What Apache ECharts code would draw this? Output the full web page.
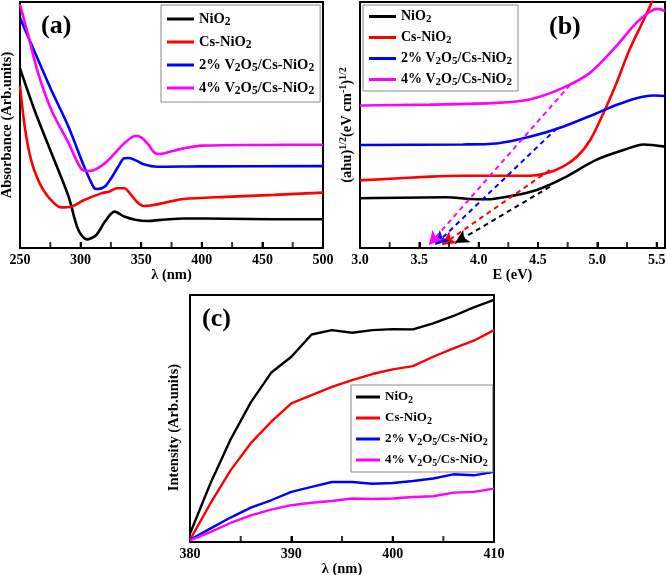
<!DOCTYPE html>
<html>
<head>
<meta charset="utf-8">
<script src="https://cdn.jsdelivr.net/npm/echarts/dist/echarts.min.js"></script>
<style>
html, body { margin: 0; padding: 0; background: #fff; }
#main { width: 666px; height: 575px; }
</style>
</head>
<body>
<div id="main"></div>
<script>
var FONT = '"Liberation Serif", "Times New Roman", serif';

var names = ['NiO2', 'Cs-NiO2', '2% V2O5/Cs-NiO2', '4% V2O5/Cs-NiO2'];
var richNames = {
	'NiO2': 'NiO{s|2}',
	'Cs-NiO2': 'Cs-NiO{s|2}',
	'2% V2O5/Cs-NiO2': '2% V{s|2}O{s|5}/Cs-NiO{s|2}',
	'4% V2O5/Cs-NiO2': '4% V{s|2}O{s|5}/Cs-NiO{s|2}'
};
var colors = ['#000000', '#ff0000', '#0000ff', '#ff00ff'];

// (a) absorbance, [nm, a.u.]
var absNiO2 = [[250, 73], [262, 56], [276, 38.5], [290, 21], [298, 7.5], [305, 3.5], [313, 5.3], [320, 10.7], [328, 14.8], [336, 12.8], [345, 11.5], [355, 11], [370, 11.6], [385, 12], [420, 11.9], [460, 11.7], [500, 11.7]];
var absCs = [[250, 66], [254, 49], [259, 36], [265, 27.6], [273, 21], [284, 16.5], [292, 16.8], [303, 19.5], [317, 22.2], [324, 23], [330, 24.3], [336, 24.3], [341, 22], [346, 19], [352, 17.1], [358, 17.3], [370, 18.5], [385, 19.9], [420, 20.8], [460, 21.6], [500, 22.5]];
var absV2 = [[250, 93.5], [265, 76.4], [276, 64], [290, 49.3], [303, 33], [311, 24.5], [314, 24], [320, 25], [326, 29], [331, 33], [336, 36.5], [340, 36.6], [346, 35.5], [352, 34], [363, 33], [400, 33.2], [500, 33.3]];
var absV4 = [[250, 99], [257, 86], [265, 71], [276, 56], [290, 42.7], [300, 32.5], [305, 31.3], [310, 31.5], [316, 33], [323, 35.8], [330, 39.5], [337, 43], [345, 45.5], [350, 45], [356, 42], [361, 38.7], [366, 38.2], [375, 39.3], [385, 40.5], [400, 41.6], [450, 41.9], [500, 42]];

// (b) Tauc plot, [eV, a.u.]
var taucNiO2 = [[3.0, 20.2], [3.73, 20.6], [3.93, 19.9], [4.07, 19.8], [4.29, 21.3], [4.49, 23.6], [4.71, 28.3], [4.99, 35.8], [5.22, 39.8], [5.39, 42.1], [5.57, 41.2]];
var taucCs = [[3.0, 27.5], [3.59, 29], [3.87, 29.4], [4.43, 29.4], [4.57, 30.4], [4.71, 33.1], [4.83, 37.2], [4.94, 43.9], [5.05, 54.7], [5.16, 66.9], [5.27, 80.5], [5.39, 92.7], [5.46, 100.1], [5.5, 106]];
var taucV2 = [[3.0, 41.9], [3.87, 42.1], [4.15, 42.5], [4.43, 45.2], [4.71, 49.3], [4.99, 54.7], [5.16, 58.1], [5.33, 60.9], [5.47, 62], [5.57, 61.8]];
var taucV4 = [[3.0, 57.9], [3.59, 58.3], [4.15, 59], [4.43, 60.4], [4.71, 65.1], [4.94, 71.3], [5.16, 82.1], [5.33, 91.6], [5.45, 96.3], [5.51, 97.2], [5.57, 96.3]];

// (b) tangent extrapolations, [start, arrow end]
var tanNiO2 = [[4.60, 24.9], [3.80, 2.0]];
var tanCs = [[4.60, 31.7], [3.69, 1.2]];
var tanV2 = [[4.66, 48.7], [3.63, 1.2]];
var tanV4 = [[4.77, 66.3], [3.58, 1.2]];

// (c) PL intensity
var plWave = [380, 382, 384, 386, 388, 390, 392, 394, 396, 398, 400, 402, 404, 406, 408, 410];
var plNiO2 = [3.4, 23.6, 41.5, 56.5, 68.5, 75, 84, 85.8, 84.7, 85.8, 86.2, 86.1, 88.5, 91.5, 95, 98];
var plCs = [0.9, 15.5, 29, 40, 48.6, 56.1, 59.5, 62.8, 65.5, 68, 69.9, 71.2, 75, 78.4, 81.5, 85.8];
var plV2 = [0.9, 5.4, 9.9, 13.9, 16.9, 20.3, 22.3, 24.3, 24.3, 23.6, 23.9, 24.7, 25.7, 27.4, 27, 28.4];
var plV4 = [0.7, 4, 7.7, 10.8, 13.1, 14.9, 15.9, 16.6, 17.6, 17.4, 17.6, 18.2, 18.5, 20, 20.3, 21.6];

// inner tick marks on the bottom axes (major + minor)
var ticksA = [275, 300, 325, 350, 375, 400, 425, 450, 475];
var ticksB = [3.25, 3.5, 3.75, 4.0, 4.25, 4.5, 4.75, 5.0, 5.25, 5.5];
var ticksC = [385, 390, 395, 400, 405];

function zipPl(ys) {
	return plWave.map(function (x, i) { return [x, ys[i]]; });
}

var absData = [absNiO2, absCs, absV2, absV4];
var taucData = [taucNiO2, taucCs, taucV2, taucV4];
var tanData = [tanNiO2, tanCs, tanV2, tanV4];
var plData = [zipPl(plNiO2), zipPl(plCs), zipPl(plV2), zipPl(plV4)];
var tickData = [ticksA, ticksB, ticksC];

var myChart = echarts.init(document.getElementById('main'), null, { renderer: 'canvas' });

var frameLine = { show: true, onZero: false, lineStyle: { color: '#000', width: 2 } };

function xAxisOf(idx, min, max, interval, name, gap, showMax) {
	return {
		type: 'value', gridIndex: idx, position: 'bottom', min: min, max: max, interval: interval,
		name: name, nameLocation: 'middle', nameGap: gap,
		nameTextStyle: { color: '#000', fontFamily: FONT, fontWeight: 'bold', fontSize: 14.5 },
		axisLine: frameLine,
		axisTick: { show: true, inside: true, length: 6, lineStyle: { color: '#000', width: 2 } },
		splitLine: { show: false },
		axisLabel: {
			show: true, color: '#000', fontFamily: FONT, fontWeight: 'bold', fontSize: 14, margin: 5,
			showMaxLabel: showMax,
			formatter: function (v) { return interval < 1 ? v.toFixed(1) : String(v); }
		}
	};
}

// top edge of each frame
function xTopOf(idx, min, max) {
	return {
		type: 'value', gridIndex: idx, position: 'top', min: min, max: max,
		axisLine: frameLine, axisTick: { show: false }, axisLabel: { show: false }, splitLine: { show: false }
	};
}

function yAxisOf(idx, name, gap, rich, pad) {
	return {
		type: 'value', gridIndex: idx, position: 'left', min: 0, max: 100,
		name: name, nameLocation: 'middle', nameGap: gap,
		nameTextStyle: { color: '#000', fontFamily: FONT, fontWeight: 'bold', fontSize: 14.5, lineHeight: 19, rich: rich, padding: pad },
		axisLine: frameLine,
		axisTick: { show: false },
		axisLabel: { show: false },
		splitLine: { show: false }
	};
}

// right edge of each frame
function yRightOf(idx) {
	return {
		type: 'value', gridIndex: idx, position: 'right', min: 0, max: 100,
		axisLine: frameLine, axisTick: { show: false }, axisLabel: { show: false }, splitLine: { show: false }
	};
}

function legendOf(left, top, fontSize, lineH, itemGap, itemWidth, pad) {
	return {
		show: true, orient: 'vertical', left: left, top: top,
		data: names, icon: 'rect', itemWidth: itemWidth, itemHeight: 3, itemGap: itemGap,
		padding: pad,
		borderColor: '#888', borderWidth: 1, backgroundColor: '#fff',
		selectedMode: false,
		formatter: function (n) { return richNames[n]; },
		textStyle: {
			color: '#000', fontFamily: FONT, fontWeight: 'bold', fontSize: fontSize, lineHeight: lineH,
			rich: { s: { fontFamily: FONT, fontWeight: 'bold', fontSize: fontSize - 3, verticalAlign: 'bottom', color: '#000' } }
		}
	};
}

var supRich = { p: { fontFamily: FONT, fontWeight: 'bold', fontSize: 10, verticalAlign: 'top', color: '#000' } };

var series = [];
for (var i = 0; i < 4; i++) {
	series.push({
		name: names[i], type: 'line', xAxisIndex: 0, yAxisIndex: 0,
		data: absData[i], showSymbol: false, symbol: 'none', smooth: 0.3,
		lineStyle: { color: colors[i], width: 2.6 }, itemStyle: { color: colors[i] }
	});
}
for (var i = 0; i < 4; i++) {
	series.push({
		name: names[i], type: 'line', xAxisIndex: 1, yAxisIndex: 1,
		data: taucData[i], showSymbol: false, symbol: 'none', smooth: 0.3,
		lineStyle: { color: colors[i], width: 2.6 }, itemStyle: { color: colors[i] },
		markLine: {
			silent: true, animation: false,
			symbol: ['none', 'arrow'], symbolSize: [11, 14],
			label: { show: false },
			lineStyle: { color: colors[i], width: 2, type: [5, 4] },
			data: [[{ coord: tanData[i][0] }, { coord: tanData[i][1] }]]
		}
	});
}
for (var i = 0; i < 4; i++) {
	series.push({
		name: names[i], type: 'line', xAxisIndex: 2, yAxisIndex: 2,
		data: plData[i], showSymbol: false, symbol: 'none', smooth: false,
		lineStyle: { color: colors[i], width: 2.4 }, itemStyle: { color: colors[i] }
	});
}
// tick marks standing on the bottom axis line
for (var k = 0; k < 3; k++) {
	series.push({
		name: 'ticks' + k, type: 'scatter', xAxisIndex: k, yAxisIndex: k,
		data: tickData[k].map(function (v) { return [v, 0]; }),
		symbol: 'rect', symbolSize: [2, 6], symbolOffset: [0, -3],
		itemStyle: { color: '#000' }, silent: true, clip: false, z: 5
	});
}

var titleStyle = { color: '#000', fontFamily: FONT, fontWeight: 'bold', fontSize: 26 };

var option = {
	animation: false,
	backgroundColor: '#fff',
	title: [
		{ text: '(a)', left: 41, top: 13, padding: 0, textStyle: titleStyle },
		{ text: '(b)', left: 549, top: 14, padding: 0, textStyle: titleStyle },
		{ text: '(c)', left: 202, top: 306, padding: 0, textStyle: titleStyle }
	],
	grid: [
		{ left: 20, top: 2, width: 303, height: 246, show: false, outerBoundsMode: 'none' },
		{ left: 360, top: 2, width: 305, height: 246, show: false, outerBoundsMode: 'none' },
		{ left: 190, top: 295, width: 304, height: 247, show: false, outerBoundsMode: 'none' }
	],
	xAxis: [
		xAxisOf(0, 250, 500, 50, 'λ (nm)', 19, true),
		xAxisOf(1, 3.0, 5.57, 0.5, 'E (eV)', 19, false),
		xAxisOf(2, 380, 410, 10, 'λ (nm)', 17, true),
		xTopOf(0, 250, 500),
		xTopOf(1, 3.0, 5.57),
		xTopOf(2, 380, 410)
	],
	yAxis: [
		yAxisOf(0, 'Absorbance (Arb.units)', 3, null, 0),
		yAxisOf(1, '(ahu){p|1/2}(eV cm{p|-1}){p|1/2}', 3, supRich, 0),
		yAxisOf(2, 'Intensity (Arb.units)', 6, null, [0, 18, 0, 0]),
		yRightOf(0),
		yRightOf(1),
		yRightOf(2)
	],
	legend: [
		legendOf(161, 5, 14.5, 18, 5, 27, [5, 6, 5, 6]),
		legendOf(363, 5, 14, 17, 4, 27, [3, 6, 3, 6]),
		legendOf(351, 385, 13, 16, 5, 24, [4, 5, 4, 5])
	],
	series: series
};

myChart.setOption(option, true);
window.addEventListener('resize', function () {
	myChart.resize();
}, false);
</script>
</body>
</html>
